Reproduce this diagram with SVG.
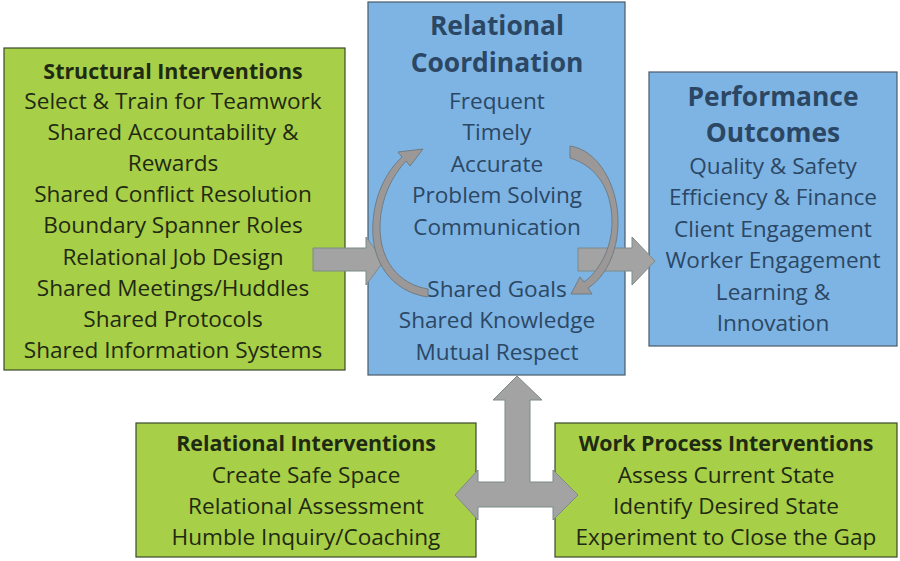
<svg xmlns="http://www.w3.org/2000/svg" width="900" height="561" viewBox="0 0 900 561">
<style>
.g{fill:#a8cf48;stroke:#3a4a2a;stroke-width:1.2}
.b{fill:#7db4e3;stroke:#4a5a6a;stroke-width:1.2}
text{font-family:"Open Sans","Noto Sans",sans-serif;text-anchor:middle}
.gt{fill:#1f2a12;font-size:22.6px}
.gh{fill:#1f2a12;font-size:21.4px;font-weight:bold}
.bt{fill:#2c4763;font-size:22.6px}
.bh{fill:#2c4763;font-size:26.4px;font-weight:bold}
.ar{fill:#a3a3a3;stroke:#7d8a8a;stroke-width:1}
.cv{fill:#9d9898;stroke:#6f7d85;stroke-width:1}
</style>
<rect width="900" height="561" fill="#fff"/>
<g id="structural">
<rect class="g" x="4" y="48" width="341" height="322"/>
<text class="gh" x="173" y="79">Structural Interventions</text>
<text class="gt" x="173" y="109">Select &amp; Train for Teamwork</text>
<text class="gt" x="173" y="140">Shared Accountability &amp;</text>
<text class="gt" x="173" y="171">Rewards</text>
<text class="gt" x="173" y="202">Shared Conflict Resolution</text>
<text class="gt" x="173" y="233">Boundary Spanner Roles</text>
<text class="gt" x="173" y="265">Relational Job Design</text>
<text class="gt" x="173" y="296">Shared Meetings/Huddles</text>
<text class="gt" x="173" y="327">Shared Protocols</text>
<text class="gt" x="173" y="358">Shared Information Systems</text>
</g>
<g id="relational-coordination">
<rect class="b" x="368" y="2" width="257" height="373"/>
<text class="bh" x="497" y="35">Relational</text>
<text class="bh" x="497" y="72">Coordination</text>
<text class="bt" x="497" y="109">Frequent</text>
<text class="bt" x="497" y="140">Timely</text>
<text class="bt" x="497" y="172">Accurate</text>
<text class="bt" x="497" y="203">Problem Solving</text>
<text class="bt" x="497" y="235">Communication</text>
<text class="bt" x="497" y="297">Shared Goals</text>
<text class="bt" x="497" y="328">Shared Knowledge</text>
<text class="bt" x="497" y="360">Mutual Respect</text>
</g>
<g id="performance-outcomes">
<rect class="b" x="649" y="72" width="248" height="274"/>
<text class="bh" x="773" y="106">Performance</text>
<text class="bh" x="773" y="142">Outcomes</text>
<text class="bt" x="773" y="174">Quality &amp; Safety</text>
<text class="bt" x="773" y="205">Efficiency &amp; Finance</text>
<text class="bt" x="773" y="237">Client Engagement</text>
<text class="bt" x="773" y="268">Worker Engagement</text>
<text class="bt" x="773" y="300">Learning &amp;</text>
<text class="bt" x="773" y="331">Innovation</text>
</g>
<g id="relational-interventions">
<rect class="g" x="136" y="423" width="340" height="134"/>
<text class="gh" x="306" y="451">Relational Interventions</text>
<text class="gt" x="306" y="483">Create Safe Space</text>
<text class="gt" x="306" y="514">Relational Assessment</text>
<text class="gt" x="306" y="545">Humble Inquiry/Coaching</text>
</g>
<g id="work-process-interventions">
<rect class="g" x="555" y="423" width="342" height="134"/>
<text class="gh" x="726" y="451">Work Process Interventions</text>
<text class="gt" x="726" y="483">Assess Current State</text>
<text class="gt" x="726" y="514">Identify Desired State</text>
<text class="gt" x="726" y="545">Experiment to Close the Gap</text>
</g>
<g id="connectors">
<path class="ar" d="M313,248 H366 V237 L384,261 L366,285 V271 H313 Z"/>
<path class="ar" d="M578,248 H632 V237 L655,261 L632,285 V271 H578 Z"/>
<path class="ar" d="M505,482 V400 H493 L517,376 L542,400 H530 V482 H553 V470 L578,495 L553,520 V507 H478 V520 L455,495 L478,470 V482 Z"/>
<path class="cv" d="M428,297 C392,292 370,262 373,222 C375,192 388,170 402,157 L398,152 L423,149 L410,166 L406,161 C392,176 381,198 380,224 C379,260 398,284 428,289 Z"/>
<path class="cv" d="M570,146 C598,150 618,185 618,222 C618,254 604,278 588,288 L592,294 L571,294 L580,277 L584,282 C598,272 612,250 612,222 C612,190 597,166 570,158 Z"/>
</g>
</svg>
